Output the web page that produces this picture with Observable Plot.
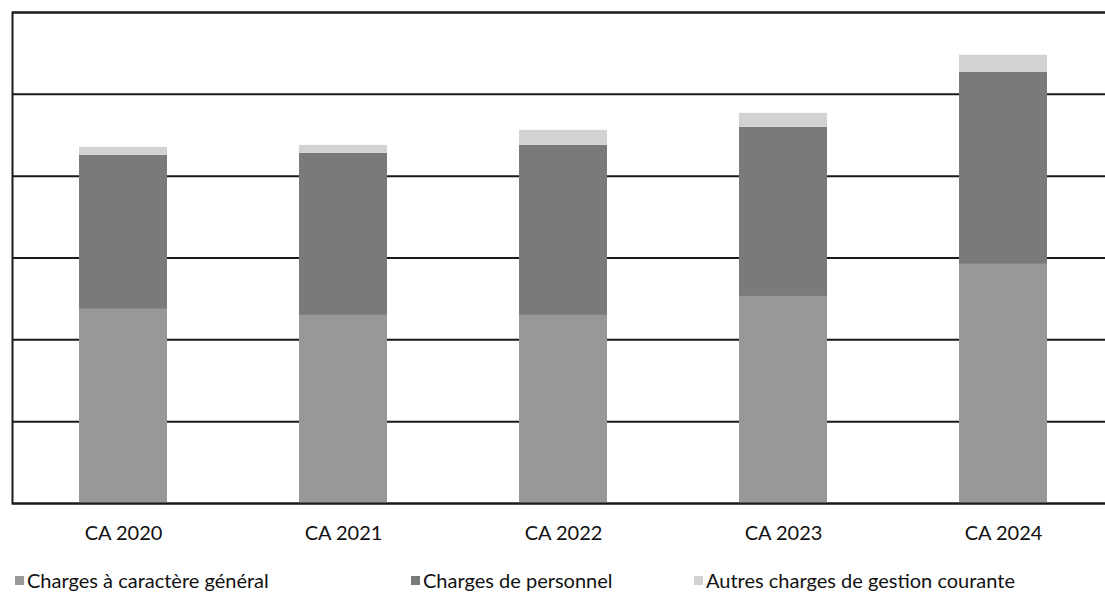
<!DOCTYPE html>
<html>
<head>
<meta charset="utf-8">
<script src="https://cdn.jsdelivr.net/npm/d3@7"></script>
<script src="https://cdn.jsdelivr.net/npm/@observablehq/plot@0.6"></script>
<style>
  html, body { margin: 0; padding: 0; background: #fff; overflow: hidden; width: 1105px; height: 596px; }
  #wrap { position: relative; width: 1105px; height: 596px; overflow: hidden; }
  #chart svg { display: block; max-width: none !important; }
  .legend { position: absolute; top: 567px; left: 0; font-family: Lato, "Open Sans", sans-serif; font-size: 20px; line-height: 26px; color: #111; }
  .item { position: absolute; white-space: nowrap; display: flex; align-items: center; }
  .sw { width: 9px; height: 9px; margin-right: 3px; display: inline-block; }
</style>
</head>
<body>
<div id="wrap">
  <div id="chart"></div>
  <div class="legend" id="legend"></div>
</div>
<script>
const categories = ["CA 2020", "CA 2021", "CA 2022", "CA 2023", "CA 2024"];
const seriesNames = ["Charges à caractère général", "Charges de personnel", "Autres charges de gestion courante"];
const chargesGenerales = [1186, 1149, 1149, 1265, 1461];
const chargesPersonnel = [941, 990, 1039, 1033, 1174];
const autresCharges = [49, 49, 92, 86, 104];
const gridValues = [0, 500, 1000, 1500, 2000, 2500, 3000];
const seriesColors = ["#989898", "#7a7a7a", "#d2d2d2"];

const seriesValues = [chargesGenerales, chargesPersonnel, autresCharges];
const data = [];
seriesNames.forEach((s, i) => {
  categories.forEach((c, j) => data.push({category: c, serie: s, value: seriesValues[i][j]}));
});

const chart = Plot.plot({
  width: 1115,
  height: 560,
  marginLeft: 12,
  marginRight: 0,
  marginTop: 12,
  marginBottom: 57,
  style: {fontFamily: "Lato, 'Open Sans', sans-serif", fontSize: "20px", color: "#111", background: "#fff", maxWidth: "none"},
  x: {domain: categories, paddingInner: 0.6, paddingOuter: 0.3, label: null},
  y: {domain: [0, 3000], axis: null},
  color: {domain: seriesNames, range: seriesColors},
  marks: [
    Plot.ruleY(gridValues, {stroke: "#1a1a1a", strokeWidth: 2}),
    Plot.barY(data, Plot.stackY({x: "category", y: "value", fill: "serie", order: seriesNames})),
    Plot.frame({stroke: "#1a1a1a", strokeWidth: 2}),
    Plot.axisX({tickSize: 0, tickPadding: 22, fontSize: 20, label: null})
  ]
});
document.getElementById("chart").appendChild(chart);

const legendPos = [15, 411, 694];
const legend = document.getElementById("legend");
seriesNames.forEach((s, i) => {
  const it = document.createElement("div");
  it.className = "item";
  it.style.left = legendPos[i] + "px";
  const sw = document.createElement("span");
  sw.className = "sw";
  sw.style.background = seriesColors[i];
  it.appendChild(sw);
  it.appendChild(document.createTextNode(s));
  legend.appendChild(it);
});
</script>
</body>
</html>
